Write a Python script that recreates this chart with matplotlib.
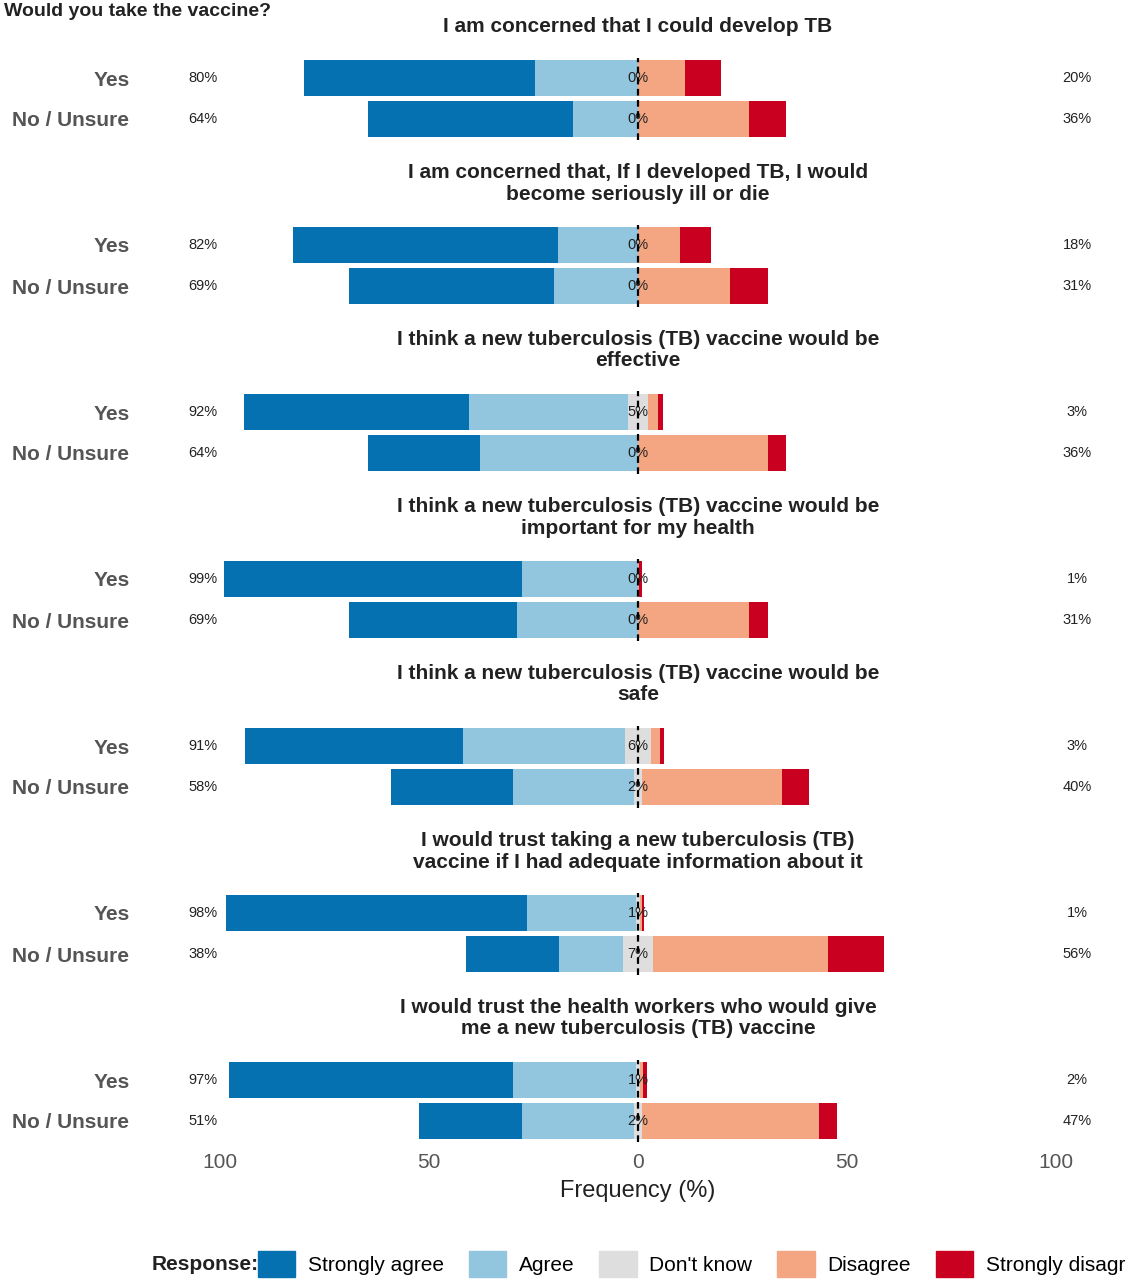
import matplotlib
matplotlib.use("Agg")
import matplotlib.pyplot as plt
from matplotlib.patches import Patch

plt.rcParams['font.family'] = ['Liberation Sans', 'DejaVu Sans']

titles = [
    "I am concerned that I could develop TB",
    "I am concerned that, If I developed TB, I would\nbecome seriously ill or die",
    "I think a new tuberculosis (TB) vaccine would be\neffective",
    "I think a new tuberculosis (TB) vaccine would be\nimportant for my health",
    "I think a new tuberculosis (TB) vaccine would be\nsafe",
    "I would trust taking a new tuberculosis (TB)\nvaccine if I had adequate information about it",
    "I would trust the health workers who would give\nme a new tuberculosis (TB) vaccine",
]
groups = ["Yes", "No / Unsure"]
# each tuple: (Yes, No/Unsure) per question
strongly_agree = [(55.3, 49.0), (63.4, 49.0), (53.8, 26.8), (71.3, 40.0), (52.2, 29.0), (72.0, 22.2), (68.0, 24.6)]
agree = [(24.6, 15.5), (19.1, 20.1), (37.8, 37.8), (27.8, 29.0), (38.8, 29.0), (26.0, 15.5), (29.4, 26.8)]
dont_know = [(0, 0), (0, 0), (5.0, 0), (0, 0), (6.0, 2.0), (1.0, 7.0), (1.0, 2.0)]
disagree = [(11.2, 26.6), (10.0, 22.0), (2.2, 31.1), (0.3, 26.6), (2.2, 33.5), (0.5, 42.0), (0.7, 42.3)]
strongly_disagree = [(8.6, 8.9), (7.4, 9.1), (1.2, 4.3), (0.7, 4.5), (1.0, 6.5), (0.5, 13.4), (1.0, 4.3)]
left_labels = [("80%", "64%"), ("82%", "69%"), ("92%", "64%"), ("99%", "69%"), ("91%", "58%"), ("98%", "38%"), ("97%", "51%")]
mid_labels = [("0%", "0%"), ("0%", "0%"), ("5%", "0%"), ("0%", "0%"), ("6%", "2%"), ("1%", "7%"), ("1%", "2%")]
right_labels = [("20%", "36%"), ("18%", "31%"), ("3%", "36%"), ("1%", "31%"), ("3%", "40%"), ("1%", "56%"), ("2%", "47%")]

colors = {"Strongly agree": "#0571b0", "Agree": "#92c5de", "Don't know": "#dedede",
          "Disagree": "#f4a582", "Strongly disagree": "#ca0020"}

W, H = 1126, 1280
fig = plt.figure(figsize=(W / 100, H / 100), dpi=100)
ax_left, ax_right = 178 / W, 1098 / W
unit = 41
for i in range(7):
    yes_y = 78 + 167 * i
    top = yes_y - unit * 0.5
    height = 2 * unit
    ax = fig.add_axes([ax_left, 1 - (top + height) / H, ax_right - ax_left, height / H])
    ys = [1, 0]
    for j in range(2):
        y = ys[j]
        dk = dont_know[i][j]
        a = agree[i][j]; sa = strongly_agree[i][j]
        d = disagree[i][j]; sd = strongly_disagree[i][j]
        h = 0.88
        ax.barh(y, -a, left=-dk / 2, height=h, color=colors["Agree"])
        ax.barh(y, -sa, left=-dk / 2 - a, height=h, color=colors["Strongly agree"])
        ax.barh(y, dk, left=-dk / 2, height=h, color=colors["Don't know"])
        ax.barh(y, d, left=dk / 2, height=h, color=colors["Disagree"])
        ax.barh(y, sd, left=dk / 2 + d, height=h, color=colors["Strongly disagree"])
        ax.text(-104, y, left_labels[i][j], ha="center", va="center", fontsize=10.5, color="#222")
        ax.text(0, y, mid_labels[i][j], ha="center", va="center", fontsize=10.5, color="#222")
        ax.text(105, y, right_labels[i][j], ha="center", va="center", fontsize=10.5, color="#222")
    ax.axvline(0, color="black", linestyle=(0, (3, 2)), linewidth=1.6, zorder=5)
    ax.set_xlim(-110, 110)
    ax.set_ylim(-0.5, 1.5)
    ax.set_yticks([1, 0])
    ax.set_yticklabels(groups, fontsize=15, fontweight="bold", color="#555")
    ax.tick_params(axis="y", length=0, pad=35)
    for s in ax.spines.values():
        s.set_visible(False)
    ax.set_title(titles[i], fontsize=15, fontweight="bold", color="#222", pad=18, linespacing=1.15)
    if i < 6:
        ax.set_xticks([])
    else:
        ax.set_xticks([-100, -50, 0, 50, 100])
        ax.set_xticklabels(["100", "50", "0", "50", "100"], fontsize=15, color="#555")
        ax.tick_params(axis="x", length=0, pad=8)
        ax.set_xlabel("Frequency (%)", fontsize=17, color="#222", labelpad=6)

fig.text(4 / W, 1 - 12 / H, "Would you take the vaccine?", fontsize=14, fontweight="bold",
         color="#222", ha="left", va="center")
fig.text(152 / W, 1 - 1264 / H, "Response:", fontsize=15, fontweight="bold",
         color="#222", ha="left", va="center")
handles = [Patch(color=c, label=k) for k, c in colors.items()]
fig.legend(handles=handles, loc="center", bbox_to_anchor=(703 / W, 1 - 1264 / H), ncol=5,
           frameon=False, fontsize=15, handlelength=1.8, handleheight=1.6,
           columnspacing=1.2, handletextpad=0.6)
fig.savefig("out.png", dpi=100, facecolor="white")
